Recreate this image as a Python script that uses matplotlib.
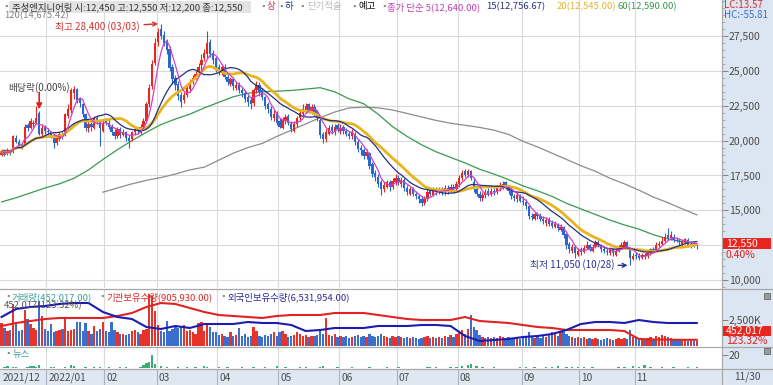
import numpy as np
import pandas as pd
import matplotlib
matplotlib.use('Agg')
import matplotlib.pyplot as plt
from matplotlib.patches import Rectangle
from matplotlib.lines import Line2D
from matplotlib.ticker import FuncFormatter, MultipleLocator

plt.rcParams['font.family'] = ['Noto Sans CJK KR', 'DejaVu Sans']

# ---- data (prices in units of 100 won) ----
months = ['2021/12', '2022/01', '02', '03', '04', '05', '06', '07', '08', '09', '10', '11']
month_len = [16, 20, 18, 21, 21, 21, 20, 21, 22, 20, 19, 22]

close = [192,190,193,191,203,199,197,196,210,209,214,213,216,205,209,207,
         206,204,198,202,205,203,219,223,236,237,229,227,219,209,212,210,216,214,209,213,
         213,210,206,203,208,204,206,202,200,206,208,207,210,214,226,238,255,270,
         278,275,270,265,252,244,240,232,228,233,238,242,245,248,253,258,263,270,262,258,252,
         250,253,246,242,244,239,240,236,234,230,228,226,236,240,235,231,225,223,217,219,213,
         210,215,217,213,208,212,216,220,223,225,222,224,220,216,204,201,206,209,207,210,208,
         209,207,205,203,206,199,194,193,189,192,182,176,174,169,165,168,170,167,171,173,
         170,172,166,163,165,162,160,158,155,158,163,162,165,163,165,163,166,164,167,165,169,
         173,177,175,178,173,165,162,159,161,163,162,164,163,166,168,169,166,164,160,159,161,157,
         156,153,146,145,147,146,144,142,143,140,139,140,137,138,132,125,122,124,119,121,
         120,123,125,122,124,127,125,122,121,120,122,119,121,123,125,127,123,116,117,
         117,116,118,117,119,122,121,125,126,128,131,130,132,129,128,127,127,129.5,125,126,125,125.5]
open_ = [190,193,191,193,192,202,199,197,197,211,209,212,213,220,205,210,
         207,206,204,198,201,205,204,218,222,234,237,230,226,219,209,212,209,216,214,207,
         214,213,210,206,203,208,204,206,202,201,206,208,206,210,214,226,239,256,
         271,280,276,271,266,253,245,241,233,229,233,237,243,246,249,254,259,262,271,263,259,
         253,249,253,246,241,244,238,240,236,234,231,229,227,236,240,236,231,226,223,216,219,
         214,209,214,218,212,207,212,216,219,222,226,221,224,221,215,205,201,205,210,206,211,
         207,210,207,205,203,205,199,195,193,189,191,183,177,174,170,165,167,170,167,170,
         173,169,172,166,162,165,162,160,158,155,158,164,161,165,163,165,163,166,164,167,165,
         169,173,178,175,178,170,165,162,159,161,164,162,164,163,166,167,170,166,164,160,158,161,
         157,156,153,146,144,147,146,144,141,143,141,138,140,136,138,133,126,121,124,118,
         122,120,123,125,121,124,127,125,122,121,119,122,118,121,123,124,127,123,115,
         118,117,116,118,117,119,122,121,125,126,128,132,130,131,129,128,126,127,129,125,126,124.5]
high = [194,194,195,194,204,204,201,199,212,213,216,215,225,221,211,211,
        209,207,205,203,206,206,220,226,238,239,238,231,227,220,214,214,218,218,215,215,
        216,215,212,208,210,210,208,207,204,207,210,210,212,216,228,241,258,274,
        281,284,279,273,268,255,247,243,235,235,240,244,247,250,256,262,266,279,273,265,260,
        255,255,255,248,246,246,242,242,238,236,233,231,238,243,242,238,232,228,225,222,221,
        216,217,219,219,214,214,218,222,226,227,227,226,226,222,217,206,208,211,212,212,213,
        212,211,209,207,208,206,201,197,195,194,192,185,179,176,172,170,172,172,173,176,
        175,174,173,168,167,167,164,162,160,160,165,166,167,167,167,167,168,168,169,169,171,
        175,179,180,180,179,174,167,164,163,165,166,166,166,168,170,171,171,168,166,162,163,162,
        160,158,154,148,149,149,148,146,145,145,143,142,141,140,139,134,127,126,125,123,
        124,125,128,126,126,129,129,126,124,123,124,123,122,125,127,129,128,124,119,
        120,119,119,119,120,123,124,127,128,131,134,137,135,133,131,130,129,130,130,128,127,125.5]
low = [189,189,190,190,191,198,196,194,196,207,208,210,212,204,203,205,
       204,202,195,197,200,201,203,216,220,230,227,224,217,207,206,207,208,212,196,206,
       211,208,204,201,202,202,203,200,195,200,204,205,205,208,213,224,237,254,
       268,273,268,262,250,241,236,229,224,227,231,235,241,244,247,251,257,259,260,255,249,
       247,247,244,240,239,236,236,234,231,228,225,223,225,234,232,229,223,220,215,214,211,
       209,208,212,211,206,206,210,214,217,220,220,219,218,214,202,198,199,204,205,204,206,
       205,205,203,201,201,197,192,190,187,187,180,174,171,167,161,163,166,164,165,168,
       168,167,164,161,161,160,158,155,153,154,157,160,160,161,162,161,161,162,163,163,164,
       167,172,174,174,172,163,160,157,157,159,160,160,161,162,164,165,165,162,158,157,156,156,
       154,151,144,143,143,144,142,140,139,139,137,137,135,135,130,122,119,119,116,117,
       118,119,122,121,120,123,124,120,119,118,118,117,117,120,122,123,122,110.5,114,
       115,114,115,115,116,118,120,121,124,125,127,129,129,127,127,125,124,126,124,123,124,122]
volume = [2250,1730,1400,1500,4000,2100,1400,1500,3500,2600,2100,1700,1500,4300,2900,1600,
          1400,2100,1300,1400,1500,1600,2800,1400,1500,1600,2300,2300,1400,2200,1400,1200,1900,1400,1600,2300,
          1400,1300,2300,1500,1300,1200,1200,1100,1200,1400,1500,1300,1200,1500,1600,5000,4800,3400,
          2000,1400,1300,2400,1400,1600,1900,1700,1800,2000,1400,1500,1300,1200,2200,2300,1400,2000,1800,1300,1300,
          1100,1200,1000,900,1300,1000,1100,1700,1000,1200,900,1000,1800,1400,1000,900,1100,1000,1200,1300,1000,
          1300,1400,1200,900,1000,1100,1300,1200,1000,1100,900,1000,1000,1100,1600,1200,2700,1100,1000,1200,900,
          1000,900,1000,800,900,1000,1100,900,1000,900,1200,1000,900,1000,1200,1000,900,800,1000,900,
          1000,900,800,900,800,900,800,700,800,900,1000,800,900,800,900,800,1000,900,1100,900,1200,
          1300,1500,1200,1600,3000,1800,1500,1100,900,800,900,800,900,800,1000,900,800,900,800,700,800,700,
          900,1000,1300,900,800,900,800,1000,900,1100,1300,1200,1000,1400,1300,1200,1000,900,800,900,
          800,900,700,800,700,800,700,600,700,800,700,600,700,800,700,800,700,1500,900,
          800,700,600,700,800,900,700,1000,900,1100,1000,900,800,700,600,700,600,700,500,600,500,452.017]

# moving averages (every 5 sessions)
ma60_idx = list(range(0, 241, 5))
ma60 = [156,159,162.5,166,169,173,179,186.5,193.5,200,206,211.5,215.5,219,223.5,227.5,231.5,234,235,
        235.5,236,237,238,235,230,226.5,219,210,203,197,192,188,184,179.5,176,172,167.5,164,160,155,
        151,147,143,139.5,136.5,132.5,129.5,127.5,125.9]
ma120_idx = list(range(35, 241, 5))
ma120 = [163,166,169,171.5,173.5,176,179,181,186,191,195,198,203,207.5,212,216.5,220.5,223.5,224,
         223.5,222,219.5,217,214.5,212.5,211,209.5,207.5,204.5,199.5,195.5,191,186.5,182,178,173,169,
         164.5,159.5,155.5,151,146.75]

# holdings (thousand shares), sampled every 5 sessions
hold_idx = list(range(0, 241, 5))
inst_hold = [1320,1410,1470,1530,1560,1560,1560,1560,1620,1710,1890,2010,1980,1860,1740,1650,1620,1590,
             1560,1620,1650,1650,1650,1710,1710,1710,1650,1590,1530,1500,1500,1500,1590,1470,1440,1410,
             1350,1290,1260,1200,1200,1200,1200,1170,930,915,910,906,905.93]
frgn_hold = [7130,7930,8130,8230,8430,8530,8530,7630,7130,6930,6130,5930,6230,6030,6430,6430,6430,6630,
             6530,6530,6330,5730,5830,6030,6030,6030,6230,6230,6230,6330,6330,6230,5230,4730,4830,4930,
             5130,5230,5430,5830,6430,6630,6630,6530,6830,6630,6530,6530,6531.954]

news_idx = [1,2,4,5,9,10,11,12,13,17,18,22,24,25,29,32,34,37,41,43,48,49,50,51,52,53,55,57,61,64,67,70,71,
            75,78,83,87,91,95,98,103,105,110,111,116,121,127,133,137,147,148,150,155,157,159,161,162,164,
            166,170,179,181,184,188,190,192,195,197,199,201,204,213,215,218,220,222,224,228,232,237,240]
news_cnt = [2,3,2,1,2,3,3,2,4,1,2,2,5,3,2,2,1,2,2,1,2,5,7,9,20,6,3,2,2,2,1,3,2,
            2,1,2,2,1,3,2,1,2,2,3,1,2,1,2,1,2,1,2,1,2,3,4,6,3,
            2,2,1,2,2,2,2,3,2,2,2,1,2,1,2,3,2,5,2,1,2,2,1]

exdiv_idx = 13

# ---- layout helpers ----
W, H = 773, 385
fig = plt.figure(figsize=(W / 100, H / 100), dpi=100)
fig.patch.set_facecolor('white')


def box(x0, y0, x1, y1):
    return [x0 / W, 1 - y1 / H, (x1 - x0) / W, (y1 - y0) / H]


def ptext(x, y, s, **kw):
    kw.setdefault('fontsize', 6.8)
    kw.setdefault('va', 'center')
    return fig.text(x / W, 1 - y / H, s, **kw)


def prect(x0, y0, x1, y1, **kw):
    r = Rectangle((x0 / W, 1 - y1 / H), (x1 - x0) / W, (y1 - y0) / H,
                  transform=fig.transFigure, **kw)
    fig.add_artist(r)
    return r


RED = '#e8261d'
BLUE = '#2a66cc'
GRID = '#d9d9d9'
TICK = '#4a4a4a'

o = np.array(open_, float) * 100
c = np.array(close, float) * 100
hi = np.array(high, float) * 100
lo = np.array(low, float) * 100
n = len(c)
idx = np.arange(n)
up = c >= o
cols = np.where(up, RED, BLUE)

mstart = np.cumsum([0] + month_len[:-1])
xl = (-0.535, 248.7)

# right strip background
prect(722, 0, 773, 385, facecolor='#dce6f2', edgecolor='none', zorder=-5)

# ---- main price panel ----
ax = fig.add_axes(box(0, 0, 722, 288))
ax.set_xlim(*xl)
ax.set_ylim(9424, 30093)
for s in ax.spines.values():
    s.set_visible(False)
ax.yaxis.tick_right()
price_ticks = np.arange(10000, 27501, 2500)
ax.set_yticks(price_ticks)
# the 12,500 label sits under the current-price box
ax.set_yticklabels(['' if v == 12500 else f'{v:,.0f}' for v in price_ticks])
ax.yaxis.set_minor_locator(MultipleLocator(500))
ax.tick_params(axis='y', which='major', length=4, width=0.6, color='#707070',
               labelsize=7.5, labelcolor=TICK, pad=1)
ax.tick_params(axis='y', which='minor', length=2, width=0.5, color='#909090')
ax.set_xticks([])
for v in price_ticks:
    ax.axhline(v, color=GRID, lw=0.8, zorder=0)
for s in mstart[1:]:
    ax.axvline(s - 0.5, color=GRID, lw=0.8, zorder=0)

ma5 = pd.Series(c).rolling(5, min_periods=1).mean()
ma15 = pd.Series(c).rolling(15, min_periods=1).mean()
ma20 = pd.Series(c).rolling(20, min_periods=1).mean()

ax.plot(ma120_idx, np.array(ma120) * 100, color='#8c8c8c', lw=0.9, zorder=2)
ax.plot(ma60_idx, np.array(ma60) * 100, color='#3a9a50', lw=0.9, zorder=2)
ax.vlines(idx, lo, hi, colors=cols, lw=0.8, zorder=3)
body = np.maximum(np.abs(c - o), 40)
ax.bar(idx, body, bottom=np.minimum(o, c), width=0.8, color=cols, lw=0, zorder=3)
ax.plot(idx, ma20, color='#e8b41e', lw=2.0, zorder=4)
ax.plot(idx, ma15, color='#25307e', lw=0.9, zorder=5)
ax.plot(idx, ma5, color='#d040c8', lw=0.9, zorder=5)

# annotations
hi_i = int(np.argmax(hi))
ax.annotate('최고 28,400 (03/03)', xy=(hi_i, hi[hi_i]), xytext=(-21, -4),
            textcoords='offset pixels', ha='right', va='center', fontsize=7, color='#d2322c',
            arrowprops=dict(arrowstyle='->', color='#d2322c', lw=1, shrinkA=1, shrinkB=2))
lo_i = int(np.argmin(lo))
ax.annotate('최저 11,050 (10/28)', xy=(lo_i - 0.4, lo[lo_i]), xytext=(-15, 0),
            textcoords='offset pixels', ha='right', va='center', fontsize=7, color='#28348c',
            arrowprops=dict(arrowstyle='->', color='#28348c', lw=1, shrinkA=1, shrinkB=1))
ax.annotate('', xy=(exdiv_idx, hi[exdiv_idx] + 150), xytext=(0, 17), textcoords='offset pixels',
            arrowprops=dict(arrowstyle='-|>', color='#e02020', lw=1.2, mutation_scale=8,
                            shrinkA=0, shrinkB=0))
ax.annotate('배당락(0.00%)', xy=(exdiv_idx, hi[exdiv_idx]), xytext=(0, 24),
            textcoords='offset pixels', ha='center', va='center', fontsize=7, color='#444')

# ---- volume panel ----
axv = fig.add_axes(box(0, 289, 722, 346))
axv.set_xlim(*xl)
axv.set_ylim(0, 5480)
for s in axv.spines.values():
    s.set_visible(False)
axv.set_xticks([])
for s in mstart[1:]:
    axv.axvline(s - 0.5, color=GRID, lw=0.8, zorder=0)
vcols = np.where(up, '#e8332a', '#3b6fcb')
axv.bar(idx, volume, width=0.8, color=vcols, lw=0, zorder=2)

axi = axv.twinx()
axi.set_ylim(720, 2430)
axi.axis('off')
axi.plot(hold_idx, inst_hold, color='#e02424', lw=1.5, zorder=3)
axf = axv.twinx()
axf.set_ylim(4230, 9930)
axf.axis('off')
axf.plot(hold_idx, frgn_hold, color='#1c1cb0', lw=1.5, zorder=3)

# twinx moved the ticks to the left, put them back on the right
axv.yaxis.tick_right()
axv.set_yticks([2500])
axv.yaxis.set_major_formatter(FuncFormatter(lambda v, p: f'{v:,.0f}K'))
axv.tick_params(axis='y', length=4, width=0.6, color='#707070', labelsize=7.5,
                labelcolor=TICK, pad=1, labelleft=False, left=False, right=True, labelright=True)

# ---- news panel ----
axn = fig.add_axes(box(0, 348, 722, 368))
axn.set_xlim(*xl)
axn.set_ylim(0, 30.8)
for s in axn.spines.values():
    s.set_visible(False)
axn.set_xticks([])
axn.yaxis.tick_right()
axn.set_yticks([20])
axn.tick_params(axis='y', length=4, width=0.6, color='#707070', labelsize=7.5,
                labelcolor=TICK, pad=1)
for s in mstart[1:]:
    axn.axvline(s - 0.5, color=GRID, lw=0.8, zorder=0)
axn.bar(news_idx, news_cnt, width=0.8, color='#3caa78', lw=0, zorder=2)

# ---- date strip ----
axd = fig.add_axes(box(0, 369, 722, 385))
axd.set_xlim(*xl)
axd.set_ylim(0, 1)
axd.set_facecolor('#dfe7f1')
axd.set_xticks([])
axd.set_yticks([])
for s in axd.spines.values():
    s.set_visible(False)
for s, lab in zip(mstart, months):
    if s > 0:
        axd.axvline(s - 0.5, color='#a8b4c4', lw=0.8)
    axd.text(s + 0.2, 0.45, lab, fontsize=7.3, color=TICK, va='center', ha='left')

# panel separators
for yy in (288.5, 347, 368.5):
    fig.add_artist(Line2D([0, 1], [1 - yy / H] * 2, color='#a8a8a8', lw=0.9,
                          transform=fig.transFigure))
fig.add_artist(Line2D([722 / W] * 2, [0, 1], color='#a8a8a8', lw=0.9,
                      transform=fig.transFigure))

# ---- header texts ----
sq = dict(color='#8a8a8a', fontsize=5.5)
ptext(2, 7, '▪', **sq)
prect(9, 1, 251, 13, facecolor='#e3e3e3', edgecolor='none', zorder=2)
ptext(12, 7, '주성엔지니어링 시:12,450 고:12,550 저:12,200 종:12,550', color='#333333')
ptext(259, 7, '▪', **sq)
ptext(267, 7, '상', color='#c8325a')
ptext(277, 7, '▪', **sq)
ptext(285, 7, '하', color='#283c96')
ptext(298, 7, '▪', **sq)
ptext(307, 7, '단기적술', color='#b8b8b8')
ptext(350, 7, '▪', **sq)
ptext(358, 7, '예고', color='#111111')
ptext(380, 7, '▪', **sq)
ptext(387, 7, '종가 단순 5(12,640.00)', color='#c23cb4')
ptext(486, 7, '15(12,756.67)', color='#283278')
ptext(557, 7, '20(12,545.00)', color='#e2b42a')
ptext(618, 7, '60(12,590.00)', color='#3c9650')
ptext(4, 16, '120(14,675.42)', color='#808080')
ptext(724, 5, 'LC:13.57', color='#d83030', fontsize=7)
ptext(724, 15, 'HC:-55.81', color='#3c6ec8', fontsize=7)

# current price / volume boxes
prect(723, 238, 771, 249, facecolor='#e8261d', edgecolor='none', zorder=3)
ptext(726, 243.5, '12,550', color='white', fontsize=7.5, zorder=4)
ptext(726, 255, '0.40%', color='#e02020', fontsize=7.5, zorder=4)
prect(723, 326, 771, 336, facecolor='#e8261d', edgecolor='none', zorder=3)
ptext(726, 331, '452,017', color='white', fontsize=7.5, zorder=4)
ptext(726, 341, '123.32%', color='#e02020', fontsize=7.5, zorder=4)
ptext(734, 377, '11/30', color=TICK, fontsize=7.3)
for yy in (296, 351):
    prect(764, yy - 3, 770, yy + 3, facecolor='#9a9a9a', edgecolor='#555555', lw=0.5, zorder=3)

# volume / news headers
ptext(4, 297, '▪', **sq)
ptext(12, 297, '거래량(452,017.00)', color='#3c9ea0')
ptext(98, 297, '▪', **sq)
ptext(106, 297, '기관보유수량(905,930.00)', color='#d82828')
ptext(219, 297, '▪', **sq)
ptext(227, 297, '외국인보유수량(6,531,954.00)', color='#2a2a9a')
ptext(4, 306, '452,017(123.32%)', color='#555555')
ptext(4, 354, '▪', **sq)
ptext(13, 354, '뉴스', color='#3c9ea0')

fig.savefig('out.png', dpi=100)
